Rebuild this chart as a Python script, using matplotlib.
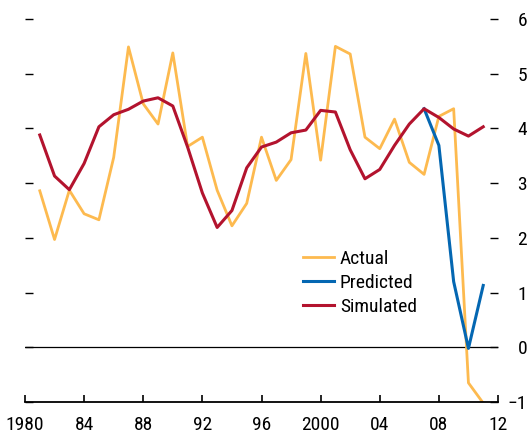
import numpy as np
import matplotlib
matplotlib.use('Agg')
from matplotlib import pyplot as plt
from matplotlib import font_manager

names = set(f.name for f in font_manager.fontManager.ttflist)
fams = [f for f in ['Liberation Sans Narrow', 'DejaVu Sans Condensed', 'Roboto Condensed',
                    'Open Sans Condensed', 'Liberation Sans'] if f in names]
print(fams)
plt.rcParams['font.family'] = fams + ['DejaVu Sans']

# Data
years = list(range(1981, 2012))
actual = [2.86, 1.97, 2.87, 2.44, 2.33, 3.47, 5.49, 4.45, 4.08, 5.38,
          3.67, 3.84, 2.87, 2.22, 2.63, 3.84, 3.05, 3.43, 5.37, 3.42,
          5.50, 5.36, 3.84, 3.63, 4.17, 3.38, 3.16, 4.22, 4.36, -0.65, -1.02]
simulated = [3.88, 3.13, 2.88, 3.36, 4.03, 4.25, 4.35, 4.50, 4.56, 4.41,
             3.66, 2.82, 2.19, 2.50, 3.28, 3.66, 3.75, 3.92, 3.97, 4.33,
             4.30, 3.61, 3.08, 3.25, 3.69, 4.08, 4.36, 4.20, 3.99, 3.86, 4.03]
pred_years = [2007, 2008, 2009, 2010, 2011]
predicted = [4.36, 3.69, 1.20, -0.02, 1.13]

xticks = [1980, 1984, 1988, 1992, 1996, 2000, 2004, 2008, 2012]
xlabels = ['1980', '84', '88', '92', '96', '2000', '04', '08', '12']
yticks = [-1, 0, 1, 2, 3, 4, 5, 6]
ylabels = ['\u22121', '0', '1', '2', '3', '4', '5', '6']

fig = plt.figure(figsize=(5.27, 4.34), dpi=100)
ax = fig.add_axes([25 / 527, 1 - 402 / 434, 473 / 527, 383 / 434])

ax.axhline(0, color='black', lw=0.9, zorder=1)
ax.plot(years, actual, color='#FDBA4F', lw=2.0, label='Actual', zorder=2)
ax.plot(pred_years, predicted, color='#0467B2', lw=2.2, label='Predicted', zorder=3)
ax.plot(years, simulated, color='#B3132E', lw=2.2, label='Simulated', zorder=4)

ax.set_xlim(1980, 2012)
ax.set_ylim(-1, 6)

for s in ['top', 'left', 'right']:
    ax.spines[s].set_visible(False)
ax.spines['bottom'].set_linewidth(1.3)

ax.set_xticks(xticks)
ax.set_xticklabels(xlabels)
ax.tick_params(axis='x', direction='in', length=5, width=1.2, labelsize=14, pad=10)

ax.set_yticks(yticks)
ax.set_yticklabels(ylabels)
ax.tick_params(axis='y', direction='in', length=6, width=1.0,
               left=True, right=True, labelleft=False, labelright=True,
               labelsize=14, pad=21)
for lab in ax.yaxis.get_majorticklabels():
    lab.set_horizontalalignment('right')

ax.legend(loc='upper left', bbox_to_anchor=(303 / 527, 1 - 250 / 434),
          bbox_transform=fig.transFigure, frameon=False, fontsize=14,
          handlelength=1.6, handletextpad=0.3, borderpad=0, borderaxespad=0,
          labelspacing=0.3)

fig.savefig('out.png', dpi=100)
